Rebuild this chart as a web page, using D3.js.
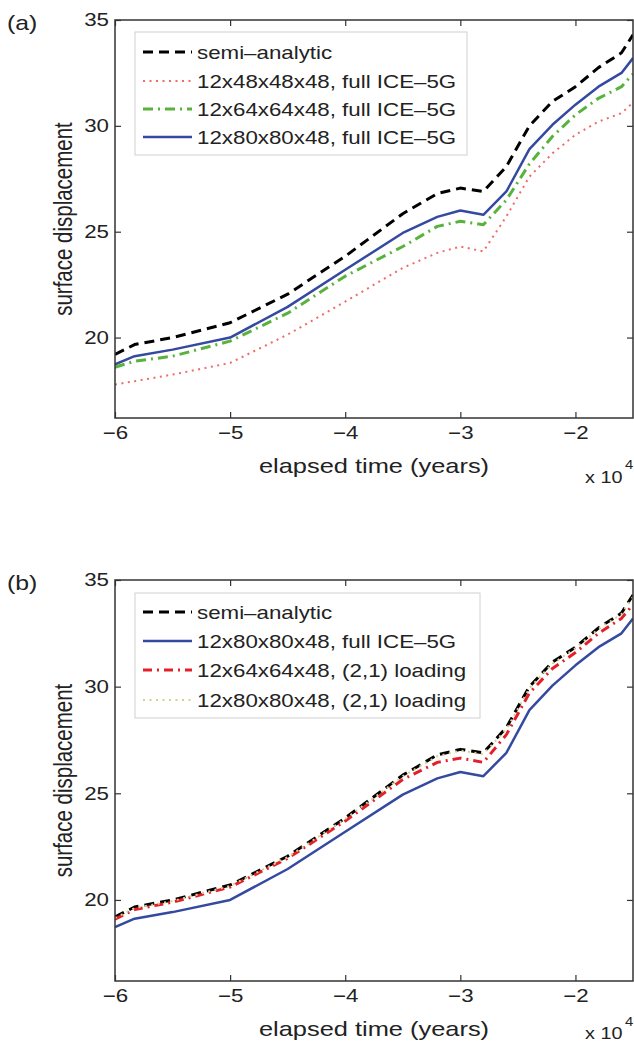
<!DOCTYPE html>
<html>
<head>
<meta charset="utf-8">
<script src="https://cdn.jsdelivr.net/npm/d3@7"></script>
<style>
  html, body { margin: 0; padding: 0; background: #fff; }
  svg { display: block; font-family: "Liberation Sans", Arial, Helvetica, sans-serif; }
</style>
</head>
<body>
<svg id="chart" width="634" height="1044"></svg>
<script>
// ---------------- data ----------------
const times      = [-6, -5.83, -5.5, -5, -4.5, -4, -3.5, -3.2, -3.0, -2.8, -2.6, -2.4, -2.2, -2.0, -1.8, -1.6, -1.5];
const semiAnalytic = [19.2, 19.67, 20.0, 20.7, 22.05, 23.84, 25.85, 26.8, 27.06, 26.9, 28.08, 30.0, 31.15, 31.85, 32.75, 33.45, 34.3];
const full80     = [18.73, 19.12, 19.43, 20.0, 21.45, 23.2, 24.94, 25.7, 26.0, 25.8, 26.9, 28.9, 30.05, 31.0, 31.85, 32.5, 33.2];
const full64     = [18.6, 18.88, 19.12, 19.83, 21.15, 22.9, 24.3, 25.25, 25.49, 25.33, 26.5, 28.2, 29.5, 30.52, 31.3, 31.85, 32.45];
const full48     = [17.78, 17.94, 18.25, 18.8, 20.14, 21.7, 23.29, 24.0, 24.3, 24.07, 25.72, 27.6, 28.7, 29.58, 30.2, 30.6, 31.1];
const load64     = [19.1, 19.55, 19.9, 20.6, 21.95, 23.7, 25.65, 26.45, 26.65, 26.45, 27.75, 29.7, 30.85, 31.6, 32.5, 33.2, 33.85];
const load80     = [19.15, 19.62, 19.95, 20.66, 22.01, 23.8, 25.8, 26.74, 27.0, 26.84, 28.0, 29.93, 31.08, 31.8, 32.7, 33.4, 34.22];

const xTicks = [-6, -5, -4, -3, -2];
const yTicks = [20, 25, 30, 35];
const xDomain = [-6, -1.5];
const yDomain = [16.2, 35];

const labelsA = ["semi\u2013analytic", "12x48x48x48, full ICE\u20135G", "12x64x64x48, full ICE\u20135G", "12x80x80x48, full ICE\u20135G"];
const labelsB = ["semi\u2013analytic", "12x80x80x48, full ICE\u20135G", "12x64x64x48, (2,1) loading", "12x80x80x48, (2,1) loading"];

// ---------------- styles ----------------
const styles = {
  semi:   { color: "#000000", width: 3,   dash: "10,6" },
  f48:    { color: "#ee6b66", width: 2,   dash: "2,4.5" },
  f64:    { color: "#58b33c", width: 3,   dash: "10,5,2,5" },
  f80:    { color: "#3449a0", width: 2.5, dash: null },
  l64:    { color: "#e3202a", width: 3,   dash: "9,5,2,5" },
  l80:    { color: "#d6d28e", width: 2,   dash: "2,4.5" }
};

const panels = [
  { tag: "(a)", top: 20, bottom: 418, expY: 483, supY: 469,
    series: [[semiAnalytic, "semi"], [full48, "f48"], [full64, "f64"], [full80, "f80"]],
    labels: labelsA, legend: { x: 135, y: 32, w: 332, h: 123, rows: [52, 81, 109, 137] } },
  { tag: "(b)", top: 580, bottom: 981, expY: 1039, supY: 1026,
    series: [[semiAnalytic, "semi"], [full80, "f80"], [load64, "l64"], [load80, "l80"]],
    labels: labelsB, legend: { x: 135, y: 593, w: 345, h: 125, rows: [612, 641, 670, 700] } }
];

const SX = 1.24; // horizontal stretch of the original glyphs
const left = 115, right = 633;
const svg = d3.select("#chart");
const axisColor = "#333";

function stretchText(sel) {
  sel.each(function() {
    const t = d3.select(this);
    const x = +t.attr("x") || 0;
    const y = +t.attr("y") || 0;
    t.attr("x", null).attr("y", null)
     .attr("transform", `translate(${x},${y}) scale(${SX},1)`);
  });
}

panels.forEach((p, pi) => {
  const x = d3.scaleLinear().domain(xDomain).range([left, right]);
  const y = d3.scaleLinear().domain(yDomain).range([p.bottom, p.top]);
  const g = svg.append("g");

  const clipId = "clip" + pi;
  g.append("clipPath").attr("id", clipId).append("rect")
    .attr("x", left).attr("y", p.top).attr("width", right - left).attr("height", p.bottom - p.top);

  // lines
  const line = d3.line().x((d, i) => x(times[i])).y(d => y(d));
  p.series.forEach(([vals, key]) => {
    const s = styles[key];
    g.append("path").datum(vals)
      .attr("clip-path", `url(#${clipId})`)
      .attr("d", line)
      .attr("fill", "none")
      .attr("stroke", s.color)
      .attr("stroke-width", s.width)
      .attr("stroke-dasharray", s.dash)
      .attr("stroke-linejoin", "round");
  });

  // axes (ticks point inward, MATLAB style)
  const fmt = d3.format("d");
  const ax = g.append("g").attr("transform", `translate(0,${p.bottom})`)
    .call(d3.axisBottom(x).tickValues(xTicks).tickSize(-6).tickPadding(8).tickFormat(fmt));
  const ay = g.append("g").attr("transform", `translate(${left},0)`)
    .call(d3.axisLeft(y).tickValues(yTicks).tickSize(-6).tickPadding(6).tickFormat(fmt));
  const at = g.append("g").attr("transform", `translate(0,${p.top})`)
    .call(d3.axisTop(x).tickValues(xTicks).tickSize(-6).tickFormat(""));
  const ar = g.append("g").attr("transform", `translate(${right},0)`)
    .call(d3.axisRight(y).tickValues(yTicks).tickSize(-6).tickFormat(""));
  [ax, ay, at, ar].forEach(a => {
    a.select(".domain").remove();
    a.selectAll("line").attr("stroke", axisColor).attr("stroke-width", 1.2);
    a.selectAll("text").attr("fill", "#222").attr("font-size", 18)
      .attr("font-family", '"Liberation Sans", Arial, sans-serif');
  });
  stretchText(ax.selectAll("text"));
  stretchText(ay.selectAll("text"));

  // frame
  g.append("rect").attr("x", left).attr("y", p.top)
    .attr("width", right - left).attr("height", p.bottom - p.top)
    .attr("fill", "none").attr("stroke", axisColor).attr("stroke-width", 1.5);

  // legend
  const L = p.legend;
  const lg = g.append("g");
  lg.append("rect").attr("x", L.x).attr("y", L.y).attr("width", L.w).attr("height", L.h)
    .attr("fill", "#fff").attr("stroke", "#d0d0d0").attr("stroke-width", 1);
  p.series.forEach(([vals, key], i) => {
    const s = styles[key];
    const ry = L.rows[i];
    lg.append("line").attr("x1", L.x + 8).attr("x2", L.x + 57).attr("y1", ry).attr("y2", ry)
      .attr("stroke", s.color).attr("stroke-width", s.width).attr("stroke-dasharray", s.dash);
    lg.append("text").attr("transform", `translate(${L.x + 62},${ry + 6.5}) scale(${SX},1)`)
      .attr("font-size", 18).attr("fill", "#222").text(p.labels[i]);
  });

  // axis labels
  const cx = (left + right) / 2;
  g.append("text").attr("transform", `translate(${cx},${p.bottom + 55}) scale(${SX},1)`)
    .attr("text-anchor", "middle").attr("font-size", 20.5).attr("fill", "#222")
    .text("elapsed time (years)");
  g.append("text").attr("transform", `translate(72,${(p.top + p.bottom) / 2}) rotate(-90) scale(1,${SX})`)
    .attr("text-anchor", "middle").attr("font-size", 20.5).attr("fill", "#222")
    .text("surface displacement");
  // exponent
  g.append("text").attr("transform", `translate(585,${p.expY}) scale(${SX},1)`)
    .attr("font-size", 16).attr("fill", "#222").text("x 10");
  g.append("text").attr("transform", `translate(625,${p.supY}) scale(${SX},1)`)
    .attr("font-size", 12).attr("fill", "#222").text("4");
  // panel tag
  g.append("text").attr("transform", `translate(7,${p.top + 10}) scale(${SX},1)`)
    .attr("font-size", 20).attr("fill", "#222").text(p.tag);
});
</script>
</body>
</html>
